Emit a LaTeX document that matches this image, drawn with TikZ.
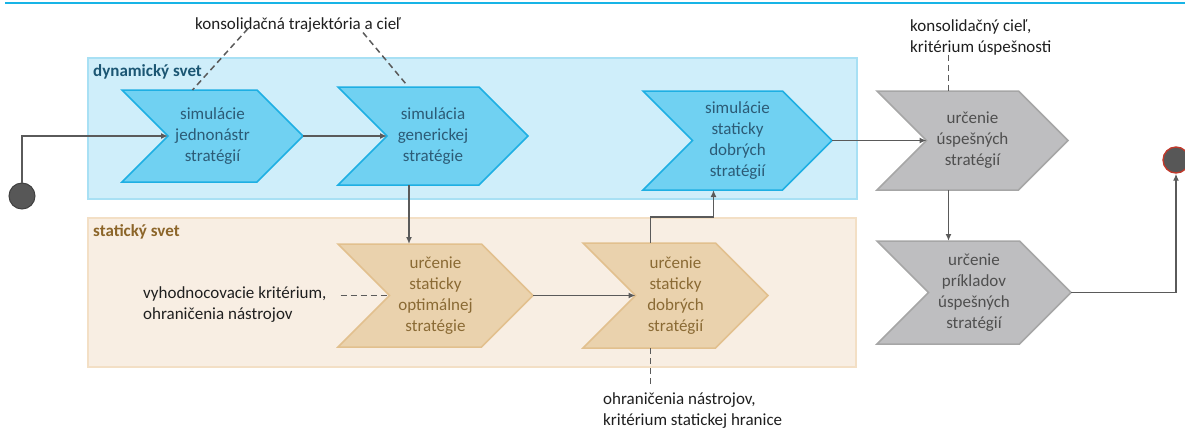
\documentclass[tikz,border=0pt]{standalone}
\usepackage{fontspec}
\setmainfont{Carlito}
\usepackage{xcolor}
\usepackage{tikz}
\usetikzlibrary{arrows.meta}
\usetikzlibrary{calc}

\definecolor{topblue}{HTML}{18B4E6}
\definecolor{dynzone}{HTML}{CFEEFA}
\definecolor{dynzoneedge}{HTML}{A8E0F4}
\definecolor{dynfill}{HTML}{70D1F2}
\definecolor{dynedge}{HTML}{1EAFE3}
\definecolor{dyntext}{HTML}{2C5B76}
\definecolor{dynlabel}{HTML}{1B5673}
\definecolor{statzone}{HTML}{F8EEE3}
\definecolor{statzoneedge}{HTML}{F3DFC5}
\definecolor{statfill}{HTML}{EAD2AD}
\definecolor{statedge}{HTML}{E2C08E}
\definecolor{stattext}{HTML}{8A6A34}
\definecolor{statlabel}{HTML}{8C6529}
\definecolor{resfill}{HTML}{BEBEC0}
\definecolor{resedge}{HTML}{A6A6A6}
\definecolor{restext}{HTML}{4F4F4F}
\definecolor{linegray}{HTML}{5A5A5A}
\definecolor{dotgray}{HTML}{575757}
\definecolor{dotred}{HTML}{C0392B}

\newcommand{\chevfont}{\fontsize{17}{21}\selectfont}

\tikzset{
  chevbox/.style={draw=none, inner sep=0pt, outer sep=0pt},
  dyn/.style={fill=dynfill, draw=dynedge, line width=1.5pt, line join=miter},
  dyn text/.style={text=dyntext, align=center, font=\chevfont},
  stat/.style={fill=statfill, draw=statedge, line width=1.5pt, line join=miter},
  stat text/.style={text=stattext, align=center, font=\chevfont},
  res/.style={fill=resfill, draw=resedge, line width=1.5pt, line join=miter},
  res text/.style={text=restext, align=center, font=\chevfont},
  remark/.style={anchor=west, inner sep=0pt, align=left, text=black!88, font=\chevfont},
  zonelabel/.style={anchor=west, inner sep=0pt, font=\chevfont\bfseries},
  flow/.style={draw=linegray, line width=1.8pt, -{Latex[length=7pt,width=6pt]}},
  note/.style={draw=linegray, line width=1.5pt, dash pattern=on 6pt off 4pt},
  dot/.style={circle, minimum size=26pt, inner sep=0pt, fill=dotgray},
}

% chevron: style, name, center, width, height, text
\newcommand{\chevron}[6]{%
  \pgfmathsetmacro{\chevdep}{#5/2}
  \node[chevbox, minimum width=#4pt, minimum height=#5pt] (#2) at (#3) {};
  \draw[#1] (#2.north west) -- ([xshift=-\chevdep pt]#2.north east) -- (#2.east)
    -- ([xshift=-\chevdep pt]#2.south east) -- (#2.south west)
    -- ([xshift=\chevdep pt]#2.west) -- cycle;
  \coordinate (#2-in) at ([xshift=\chevdep pt]#2.west);
  \node[#1 text] at (#2) {#6};
}

\begin{document}
\begin{tikzpicture}[x=1pt, y=-1pt]
    \useasboundingbox (0,0) rectangle (1185,432);

    \draw[topblue, line width=2pt] (5,3) -- (1185,3);

    % worlds
    \draw[fill=dynzone, draw=dynzoneedge, line width=1.5pt] (88,58) rectangle (857,199);
    \draw[fill=statzone, draw=statzoneedge, line width=1.5pt] (88,218) rectangle (856,367);
    \node[zonelabel, text=dynlabel] (dynlab) at (93,72) {dynamický svet};
    \node[zonelabel, text=statlabel] (statlab) at (93,232) {statický svet};

    % steps
    \chevron{dyn}{c1}{212.5,136}{181}{92}{simulácie\\jednonástr\\stratégií}
    \chevron{dyn}{c2}{433,136}{190}{98}{simulácia\\generickej\\stratégie}
    \chevron{dyn}{c3}{737.5,140.5}{189}{99}{simulácie\\staticky\\dobrých\\stratégií}
    \chevron{stat}{s1}{435.5,295.5}{195}{103}{určenie\\staticky\\optimálnej\\stratégie}
    \chevron{stat}{s2}{675.5,295.5}{185}{105}{určenie\\staticky\\dobrých\\stratégií}
    \chevron{res}{g1}{972.5,140.5}{191}{99}{určenie\\úspešných\\stratégií}
    \chevron{res}{g2}{974,292.5}{194}{103}{určenie\\príkladov\\úspešných\\stratégií}

    % inputs
    \node[remark] (traj) at (195,25) {konsolidačná trajektória a cieľ};
    \node[remark] (ciel) at (910,37) {konsolidačný cieľ,\\kritérium úspešnosti};
    \node[remark] (vyh) at (143,304.5) {vyhodnocovacie kritérium,\\ohraničenia nástrojov};
    \node[remark] (hran) at (603,411) {ohraničenia nástrojov,\\kritérium statickej hranice};

    \draw[note] ([xshift=53pt, yshift=4pt]traj.south west) -- ([xshift=-20pt]c1.north);
    \draw[note] ([xshift=168pt]traj.south west) -- ([xshift=-27pt, yshift=3pt]c2.north);
    \draw[note] ([xshift=-24pt]g1.north |- ciel.south) -- ([xshift=-24pt]g1.north);
    \draw[note] ([xshift=14pt]vyh.east |- s1-in) -- (s1-in);
    \draw[note] ([xshift=-25pt]s2.south) -- ([xshift=-25pt, yshift=6pt]s2.south |- hran.north);

    % start and end
    \node[dot, draw=black!75, line width=1pt] (start) at (22,196) {};
    \node[dot, draw=dotred, line width=1.4pt] (finish) at (1176,160) {};

    \draw[flow] (start.north) |- (c1-in);
    \draw[flow] (c1.east) -- (c2-in);
    \draw[flow] ([xshift=-24pt]c2.south) -- ([xshift=-24pt]c2.south |- s1.north);
    \draw[flow] (s1.east) -- (s2-in);
    \draw[flow] ([xshift=-25pt]s2.north) -- ++(0,-26) -| ([xshift=-24pt]c3.south);
    \draw[flow] (c3.east) -- (g1-in);
    \draw[flow] ([xshift=-24pt]g1.south) -- ([xshift=-24pt]g1.south |- g2.north);
    \draw[flow] (g2.east) -| (finish.south);
\end{tikzpicture}
\end{document}
